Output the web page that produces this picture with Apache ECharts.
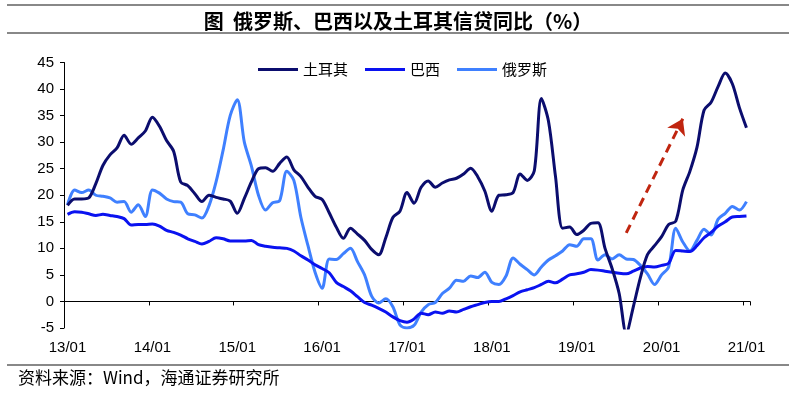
<!DOCTYPE html>
<html><head><meta charset="utf-8">
<script src="https://cdn.jsdelivr.net/npm/echarts@6/dist/echarts.min.js"></script>
<style>html,body{margin:0;padding:0;background:#fff}#c{width:796px;height:397px}</style>
</head><body><div id="c"></div>
<script>
// monthly categories 2013/01 .. 2021/01
const categories = [];
for (let y = 2013; y <= 2021; y++) for (let m = 1; m <= 12; m++) { if (y === 2021 && m > 1) break; categories.push(y + '/' + String(m).padStart(2, '0')); }

const turkey = [18.1,19.3,19.3,19.5,22.2,25.6,27.6,28.9,31.3,29.6,30.8,32.1,34.7,
 33,30.3,28.3,22.5,21.8,20.3,18.8,20,19.6,19.3,18.9,16.6,19.4,22.5,
 25,25.2,24.5,26,27.2,24.8,23.5,21.5,19.8,19.2,16.7,14,11.9,13.8,
 12.7,11.5,9.8,8.8,12,15.8,17,20.5,18.5,21.5,22.7,21.5,22.3,
 22.9,23.2,24,25.1,23.5,20.8,17,20,20.1,20.5,24,22.8,24.6,38.2,
 34,23.5,13.8,14,12.6,13.4,14.7,14.8,10,6.2,1.5,-6,-1,
 4.5,8.8,10.5,12.2,14.5,15.1,21,24.5,29,36,37.5,40.5,43,41,36.5,32.7];

const brazil = [16.4,16.9,16.8,16.5,16.2,16.4,16.2,16,15.6,14.4,14.5,14.5,14.6,
 14.2,13.4,13,12.5,11.8,11.3,10.8,11.3,12,11.8,11.4,11.4,11.4,11.5,
 10.7,10.4,10.2,10.1,10,9.5,8.6,7.8,6.9,6.2,5.4,3.6,2.8,2.0,
 0.9,-0.2,-0.7,-1.3,-2,-2.9,-3.6,-3.9,-3.3,-2.2,-2.5,-2,-2.2,
 -1.8,-2,-1.5,-1,-0.6,-0.2,0,0,0.5,1.1,1.8,2.2,2.6,3.2,
 3.8,3.5,4.2,5,5.2,5.5,6,5.9,5.7,5.5,5.3,5.2,5.7,
 6.3,6.6,6.5,6.8,7.2,9.6,9.5,9.4,10.5,12,13,14.2,15,15.9,16,16.1];

const russia = [18.2,21,20.5,21,20,19.8,19.5,18.7,18.8,16.8,18.2,16,21,20.4,
 19.3,18.8,18.7,16.5,16.3,15.7,18,22.5,28.5,35,38,30,25.5,
 20,17.2,18.6,19,24.5,22.8,15.8,10.5,5.5,2.5,8,7.9,9,10,
 7.5,5,1,-0.3,0.5,-1,-4.4,-5,-4.5,-2,-0.6,-0.2,1.5,
 2.5,4,3.8,4.8,4.5,5.5,3.6,3.2,4.8,8.2,7,6,5,6.5,
 7.8,8.6,9.5,10.7,10.4,11.8,11.8,7.8,8.8,8,8.8,8,7.9,
 6.8,5.2,3.2,5,6.5,13.8,11.2,9.5,11.5,13.6,12.5,15.5,16.6,17.9,17.2,18.8];

const seriesNames = ['土耳其', '巴西', '俄罗斯'];
const yTicks = { min: -5, max: 45, interval: 5 };
// arrow annotation (category index, value)
const arrowStart = [78.7, 12.9];
const arrowEnd = [87.4, 34.4];

const COLORS = { turkey: '#0b0d6e', brazil: '#0a12f0', russia: '#3f80ff' };
const isJan = (idx) => idx % 12 === 0;
const fmtLabel = (v) => v.slice(2, 4) + '/' + v.slice(5, 7);

const chart = echarts.init(document.getElementById('c'), null, { renderer: 'canvas' });
chart.setOption({
  animation: false,
  backgroundColor: '#fff',
  title: {
    text: '图  俄罗斯、巴西以及土耳其信贷同比（%）',
    left: 'center', top: 6,
    textStyle: { fontFamily: 'Noto Sans CJK SC', fontSize: 20, fontWeight: 'bold', color: '#000' }
  },
  legend: {
    data: seriesNames, left: 253, top: 57, icon: 'rect', itemWidth: 40, itemHeight: 3, itemGap: 17,
    textStyle: { fontFamily: 'Noto Sans CJK SC', fontSize: 15, color: '#000' }
  },
  grid: { left: 64, right: 46, top: 62.5, bottom: 69, containLabel: false },
  xAxis: [{
    type: 'category', data: categories, boundaryGap: true, position: 'bottom',
    axisLine: { show: false, onZero: false }, axisTick: { show: false },
    axisLabel: { interval: isJan, formatter: fmtLabel, margin: 12, fontSize: 15, color: '#000', fontFamily: 'Liberation Sans' },
    splitLine: { show: false }
  }, {
    type: 'category', data: categories, boundaryGap: true, position: 'bottom',
    axisLine: { show: true, onZero: true, lineStyle: { color: '#000', width: 1 } },
    axisTick: { show: true, interval: isJan, length: 4, lineStyle: { color: '#000' } },
    axisLabel: { show: false }, splitLine: { show: false }
  }],
  yAxis: {
    type: 'value', min: yTicks.min, max: yTicks.max, interval: yTicks.interval,
    axisLine: { show: true, onZero: false, lineStyle: { color: '#000', width: 1 } },
    axisTick: { show: true, length: 4, lineStyle: { color: '#000' } },
    axisLabel: { fontSize: 15, color: '#000', margin: 10, fontFamily: 'Liberation Sans' },
    splitLine: { show: false }
  },
  series: [
    { name: '俄罗斯', type: 'line', data: russia, symbol: 'none', smooth: 0.3, xAxisIndex: 0,
      itemStyle: { color: COLORS.russia }, lineStyle: { color: COLORS.russia, width: 3 } },
    { name: '巴西', type: 'line', data: brazil, symbol: 'none', smooth: 0.3, xAxisIndex: 0,
      itemStyle: { color: COLORS.brazil }, lineStyle: { color: COLORS.brazil, width: 3 } },
    { name: '土耳其', type: 'line', data: turkey, symbol: 'none', smooth: 0.3, xAxisIndex: 0,
      itemStyle: { color: COLORS.turkey }, lineStyle: { color: COLORS.turkey, width: 3 },
      markLine: {
        silent: true, symbol: ['none', 'arrow'], symbolSize: 15, animation: false,
        label: { show: false },
        lineStyle: { color: '#c0250f', width: 3, type: [9, 6] },
        data: [[{ coord: arrowStart }, { coord: arrowEnd }]]
      } }
  ],
  graphic: [
    { type: 'rect', shape: { x: 7, y: 4, width: 782, height: 2 }, style: { fill: '#888' } },
    { type: 'rect', shape: { x: 7, y: 32, width: 782, height: 2 }, style: { fill: '#888' } },
    { type: 'rect', shape: { x: 7, y: 364, width: 782, height: 2 }, style: { fill: '#888' } },
    { type: 'text', left: 18, top: 369, style: { text: '资料来源：Wind，海通证券研究所', font: '17px "Noto Sans CJK SC"', fill: '#000' } }
  ]
});
</script></body></html>
